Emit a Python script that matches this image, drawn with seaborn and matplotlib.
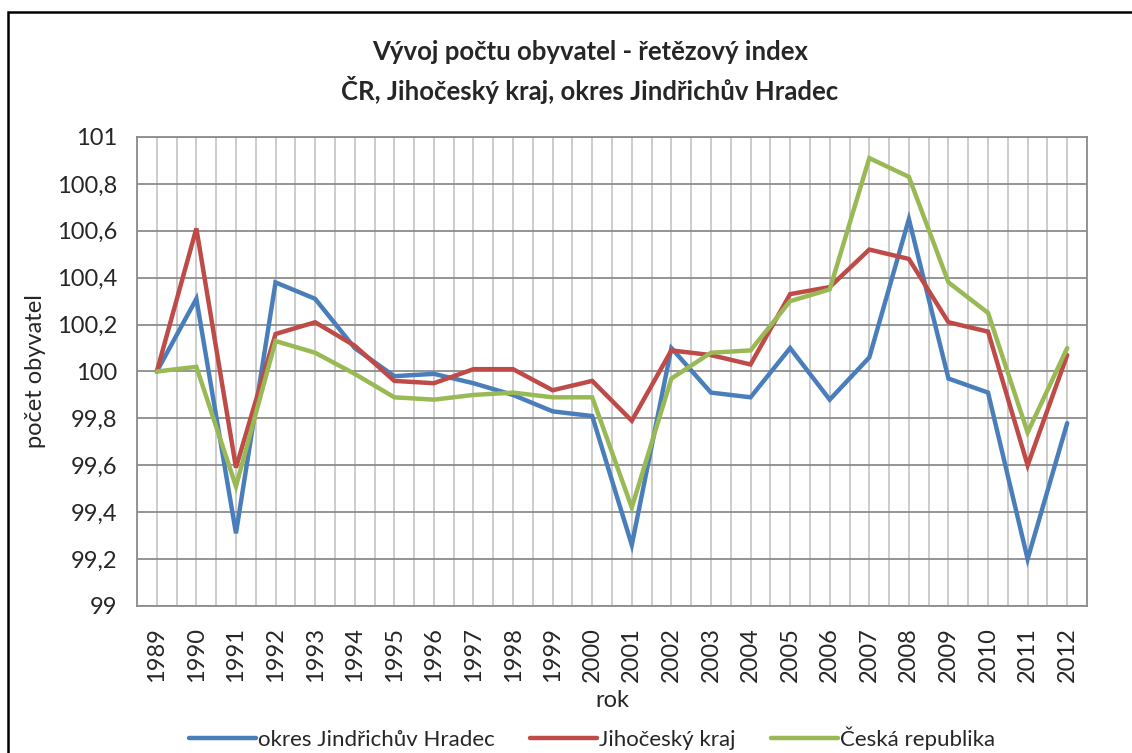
import numpy as np
import pandas as pd
import matplotlib
matplotlib.use("Agg")
import matplotlib.pyplot as plt
from matplotlib.ticker import FixedLocator, FuncFormatter, NullFormatter
import seaborn as sns

# ─── Data ─────────────────────────────────────────────────────────────────────
years = list(range(1989, 2013))

okres_jh = [100.00, 100.31, 99.31, 100.38, 100.31, 100.10, 99.98, 99.99,
            99.95, 99.90, 99.83, 99.81, 99.26, 100.10, 99.91, 99.89,
            100.10, 99.88, 100.06, 100.65, 99.97, 99.91, 99.20, 99.78]
jihocesky = [100.00, 100.61, 99.59, 100.16, 100.21, 100.11, 99.96, 99.95,
             100.01, 100.01, 99.92, 99.96, 99.79, 100.09, 100.07, 100.03,
             100.33, 100.36, 100.52, 100.48, 100.21, 100.17, 99.60, 100.07]
cr = [100.00, 100.02, 99.51, 100.13, 100.08, 99.99, 99.89, 99.88,
      99.90, 99.91, 99.89, 99.89, 99.42, 99.97, 100.08, 100.09,
      100.30, 100.35, 100.91, 100.83, 100.38, 100.25, 99.74, 100.10]

series_names = ["okres Jindřichův Hradec", "Jihočeský kraj", "Česká republika"]
colors = ["#4a7ebb", "#be4b48", "#98b954"]

df = pd.DataFrame({
    "rok": years * 3,
    "hodnota": okres_jh + jihocesky + cr,
    "serie": [series_names[0]] * len(years)
           + [series_names[1]] * len(years)
           + [series_names[2]] * len(years),
})

# ─── Plot ─────────────────────────────────────────────────────────────────────
sns.set_style("white")
plt.rcParams["font.family"] = ["Lato", "DejaVu Sans"]

W, H = 1132, 753
fig = plt.figure(figsize=(W / 100, H / 100), dpi=100)
ax = fig.add_axes([137 / W, 1 - 606 / H, (1087 - 137) / W, (606 - 137) / H])

grid_minor = "#c8c8c8"
grid_major = "#8c8c8c"

sns.lineplot(data=df, x="rok", y="hodnota", hue="serie", hue_order=series_names,
             palette=colors, linewidth=3.2, ax=ax, legend=True)
for ln in ax.lines:
    ln.set_solid_joinstyle("miter")
    ln.set_zorder(3)

ax.set_xlim(years[0] - 0.5, years[-1] + 0.5)
ax.set_ylim(99, 101)

# category boundaries = major ticks, year centres = labelled minor ticks
ax.xaxis.set_major_locator(FixedLocator(np.arange(years[0] - 0.5, years[-1] + 1.0, 1.0)))
ax.xaxis.set_major_formatter(NullFormatter())
ax.xaxis.set_minor_locator(FixedLocator(years))
ax.xaxis.set_minor_formatter(FuncFormatter(lambda v, p: f"{int(round(v))}"))
ax.tick_params(axis="x", which="major", length=6, width=1, color=grid_major, direction="out")
ax.tick_params(axis="x", which="minor", length=0, labelsize=17, rotation=90, pad=15)

ax.set_yticks(np.arange(99, 101.01, 0.2))
ax.yaxis.set_major_formatter(FuncFormatter(lambda v, p: f"{v:.1f}".rstrip("0").rstrip(".").replace(".", ",")))
ax.tick_params(axis="y", length=6, width=1, color=grid_major, direction="out", labelsize=17, pad=8)

ax.grid(True, axis="x", which="both", color=grid_minor, linewidth=1.3)
ax.grid(True, axis="y", which="major", color=grid_major, linewidth=1.3)
ax.set_axisbelow(True)
for s in ax.spines.values():
    s.set_color(grid_major)
    s.set_linewidth(1.3)

ax.set_xlabel("rok", fontsize=17, labelpad=6)
ax.set_ylabel("počet obyvatel", fontsize=17, labelpad=8)

fig.text(590 / W, 1 - 52 / H, "Vývoj počtu obyvatel - řetězový index", ha="center", va="center",
         fontsize=18.5, fontweight="bold")
fig.text(590 / W, 1 - 90 / H, "ČR, Jihočeský kraj, okres Jindřichův Hradec", ha="center", va="center",
         fontsize=18.5, fontweight="bold")

ax.legend(loc="center", bbox_to_anchor=(592 / W, 1 - 738 / H), bbox_transform=fig.transFigure,
          ncol=3, frameon=False, fontsize=16, handlelength=3.0, handletextpad=0.1,
          columnspacing=1.6, borderaxespad=0)

# chart frame
fig.patches.append(plt.Rectangle((8 / W, -0.05), 1.2, 1 - 12 / H + 0.05,
                                 transform=fig.transFigure, fill=False,
                                 edgecolor="black", linewidth=1.8))

fig.savefig("out.png", dpi=100)
